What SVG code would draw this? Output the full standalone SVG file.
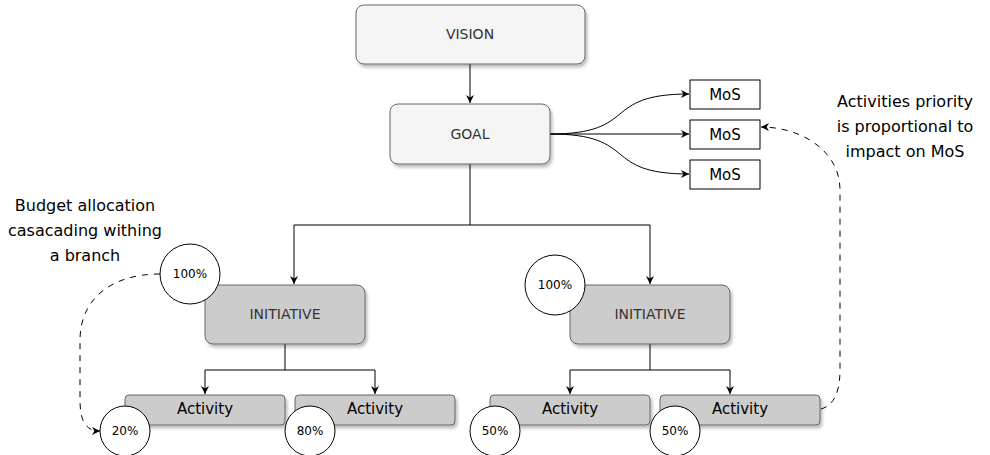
<svg xmlns="http://www.w3.org/2000/svg" width="990" height="455" viewBox="0 0 990 455">
<style>
.box{stroke:#666;stroke-width:1;filter:url(#sh)}
.lt{fill:#f5f5f5}
.dk{fill:#ccc}
.mos{fill:#fff;stroke:#000;stroke-width:1}
.circ{fill:#fff;stroke:#000;stroke-width:1}
.t{font-family:"DejaVu Sans","Liberation Sans",sans-serif;font-size:14px;fill:#333;text-anchor:middle;dominant-baseline:central}
.tb{font-family:"DejaVu Sans","Liberation Sans",sans-serif;font-size:15px;fill:#000;text-anchor:middle;dominant-baseline:central}
.ts{font-family:"DejaVu Sans","Liberation Sans",sans-serif;font-size:12px;fill:#000;text-anchor:middle;dominant-baseline:central}
.ann{font-family:"DejaVu Sans","Liberation Sans",sans-serif;font-size:16px;fill:#000;text-anchor:middle}
.c{fill:none;stroke:#000;stroke-width:1}
.d{fill:none;stroke:#000;stroke-width:1;stroke-dasharray:6 6}
</style>
<defs>
<filter id="sh" x="-10%" y="-10%" width="130%" height="140%">
<feDropShadow dx="2" dy="3" stdDeviation="1.5" flood-color="#000" flood-opacity="0.25"/>
</filter>
<marker id="a" viewBox="0 0 10 10" refX="10" refY="5" markerWidth="8" markerHeight="8" orient="auto" markerUnits="userSpaceOnUse">
<path d="M0,0 L10,5 L0,10 L3,5 z" fill="#000"/>
</marker>
</defs>
<g id="connectors">
<path class="c" d="M470,64 V103" marker-end="url(#a)"/>
<path class="c" d="M550,134 C640,134 600,94 689,94" marker-end="url(#a)"/>
<path class="c" d="M550,134 H689" marker-end="url(#a)"/>
<path class="c" d="M550,134 C640,134 600,174 689,174" marker-end="url(#a)"/>
<path class="c" d="M470,164 V225 H294 V284" marker-end="url(#a)"/>
<path class="c" d="M470,225 H650 V284" marker-end="url(#a)"/>
<path class="c" d="M285,344 V370 H205 V394" marker-end="url(#a)"/>
<path class="c" d="M285,370 H375 V394" marker-end="url(#a)"/>
<path class="c" d="M650,344 V370 H570 V394" marker-end="url(#a)"/>
<path class="c" d="M650,370 H730 V394" marker-end="url(#a)"/>
<path class="d" d="M160,274 C110,274 80,300 80,340 V400 C80,420 85,431 100,431" marker-end="url(#a)"/>
<path class="d" d="M821,409 C835,405 840,390 840,370 V190 C840,150 800,127 761,127" marker-end="url(#a)"/>
</g>
<g id="vision"><rect class="box lt" x="356" y="5" width="229" height="59" rx="8"/><text class="t" x="470" y="34">VISION</text></g>
<g id="goal"><rect class="box lt" x="390" y="104" width="160" height="60" rx="8"/><text class="t" x="470" y="134">GOAL</text></g>
<g id="mos1"><rect class="mos" x="690" y="80" width="70" height="29"/><text class="tb" x="725" y="95">MoS</text></g>
<g id="mos2"><rect class="mos" x="690" y="120" width="70" height="29"/><text class="tb" x="725" y="135">MoS</text></g>
<g id="mos3"><rect class="mos" x="690" y="160" width="70" height="29"/><text class="tb" x="725" y="175">MoS</text></g>
<g id="init1"><rect class="box dk" x="205" y="285" width="160" height="59" rx="8"/><text class="t" x="285" y="314">INITIATIVE</text></g>
<g id="init2"><rect class="box dk" x="570" y="285" width="160" height="59" rx="8"/><text class="t" x="650" y="314">INITIATIVE</text></g>
<g id="act1"><rect class="box dk" x="125" y="395" width="160" height="30" rx="4"/><text class="tb" x="205" y="409">Activity</text></g>
<g id="act2"><rect class="box dk" x="295" y="395" width="160" height="30" rx="4"/><text class="tb" x="375" y="409">Activity</text></g>
<g id="act3"><rect class="box dk" x="490" y="395" width="160" height="30" rx="4"/><text class="tb" x="570" y="409">Activity</text></g>
<g id="act4"><rect class="box dk" x="660" y="395" width="160" height="30" rx="4"/><text class="tb" x="740" y="409">Activity</text></g>
<g id="c100a"><circle class="circ" cx="190" cy="274" r="30"/><text class="ts" x="190" y="274">100%</text></g>
<g id="c100b"><circle class="circ" cx="555" cy="285" r="30"/><text class="ts" x="555" y="285">100%</text></g>
<g id="c20"><circle class="circ" cx="125" cy="431" r="25"/><text class="ts" x="125" y="431">20%</text></g>
<g id="c80"><circle class="circ" cx="310" cy="431" r="25"/><text class="ts" x="310" y="431">80%</text></g>
<g id="c50a"><circle class="circ" cx="495" cy="431" r="25"/><text class="ts" x="495" y="431">50%</text></g>
<g id="c50b"><circle class="circ" cx="675" cy="431" r="25"/><text class="ts" x="675" y="431">50%</text></g>
<g id="note-budget"><text class="ann" x="85" y="211">Budget allocation</text><text class="ann" x="85" y="236">casacading withing</text><text class="ann" x="85" y="261">a branch</text></g>
<g id="note-priority"><text class="ann" x="905" y="107">Activities priority</text><text class="ann" x="905" y="132">is proportional to</text><text class="ann" x="905" y="157">impact on MoS</text></g>
</svg>
